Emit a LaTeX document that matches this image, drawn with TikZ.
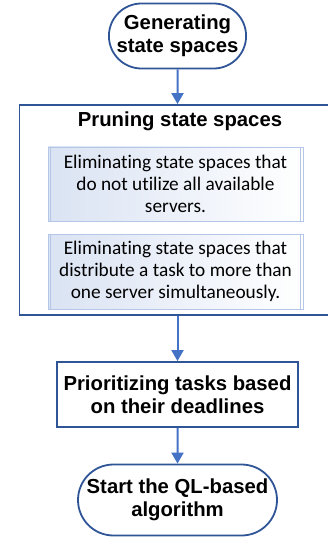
\documentclass[tikz,border=0pt]{standalone}
\usepackage{fontspec}
\setmainfont{Liberation Sans}
\newfontfamily\calib[RawFeature=-liga]{Carlito}
\usetikzlibrary{shapes.misc,arrows.meta}
\definecolor{dblue}{HTML}{2F5597}
\definecolor{ablue}{HTML}{4472C4}
\definecolor{lblue}{HTML}{B4C7E7}
\definecolor{gblue}{HTML}{DAE3F3}
\tikzset{
  x=1pt,y=1pt,
  term/.style={rounded rectangle,draw=dblue,line width=1.8pt,fill=white,align=center,font=\fontsize{20.3}{23}\selectfont\bfseries,inner sep=0pt},
  proc/.style={rectangle,draw=dblue,line width=1.8pt,align=center,font=\fontsize{20.3}{23}\selectfont\bfseries,inner sep=0pt},
  sub/.style={rectangle,draw=lblue,line width=0.8pt,left color=gblue,right color=white,align=center,font=\calib\fontsize{19.3}{22}\selectfont,inner sep=0pt,minimum width=255pt},
  flow/.style={draw=ablue,line width=2pt,-{Triangle[length=11pt,width=12pt]}}
}
\begin{document}
\begin{tikzpicture}
\useasboundingbox (0,0) rectangle (328,-537);
\clip (0,0) rectangle (328,-537);
\node[term,minimum width=137pt,minimum height=65pt] (gen) at (177.5,-36) {Generating\\state spaces};
\node[proc,minimum width=316pt,minimum height=210pt] (frame) at (177.5,-210) {};
\node[font=\fontsize{20.3}{23}\selectfont\bfseries] (title) at (180,-121) {Pruning state spaces};
\node[sub,minimum height=74pt] (s1) at (175.5,-184) {Eliminating state spaces that\\do not utilize all available\\servers.};
\node[sub,minimum height=75pt] (s2) at (175.5,-271.5) {Eliminating state spaces that\\distribute a task to more than\\one server simultaneously.};
\foreach \n in {s1,s2}{
  \draw[lblue,line width=0.8pt] ([xshift=3pt]\n.north west) -- ([xshift=3pt]\n.south west);
  \draw[lblue,line width=0.8pt] ([xshift=-3pt]\n.north east) -- ([xshift=-3pt]\n.south east);
}
\node[proc,minimum width=241pt,minimum height=65pt] (pri) at (177.5,-394.5) {Prioritizing tasks based\\on their deadlines};
\node[term,minimum width=199pt,minimum height=71pt] (ql) at (177.5,-500) {Start the QL-based\\algorithm};
\draw[flow] (gen) -- (frame.north -| gen);
\draw[flow] (frame.south -| gen) -- (pri);
\draw[flow] (pri) -- (ql);
\end{tikzpicture}
\end{document}
